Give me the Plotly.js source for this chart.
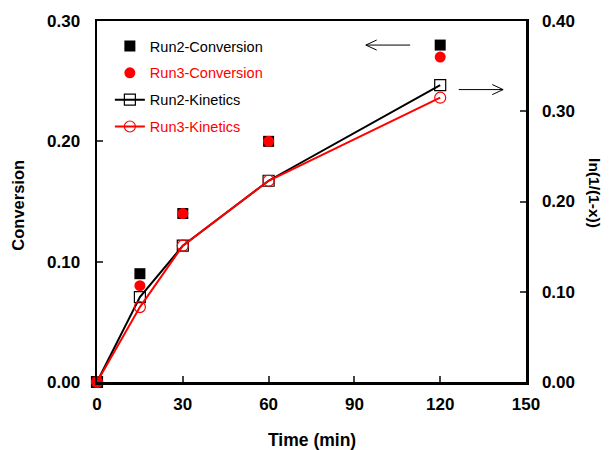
<!DOCTYPE html>
<html>
<head>
<meta charset="utf-8">
<script src="https://cdn.plot.ly/plotly-3.0.1.min.js"></script>
<style>html,body{margin:0;padding:0;background:#fff;}#chart{width:609px;height:450px;}</style>
</head>
<body>
<div id="chart"></div>
<script>
// Data
const time = [0, 15, 30, 60, 120];
const run2Conversion = [0, 0.09, 0.14, 0.20, 0.28];
const run3Conversion = [0, 0.08, 0.14, 0.20, 0.27];
const run2Kinetics = [0, 0.094, 0.151, 0.223, 0.329];
const run3Kinetics = [0, 0.083, 0.151, 0.223, 0.315];
const xTicks = [0, 30, 60, 90, 120, 150];
const seriesNames = ['Run2-Conversion', 'Run3-Conversion', 'Run2-Kinetics', 'Run3-Kinetics'];

const RED = '#ff0000';
const FONT = 'Arial, "Liberation Sans", sans-serif';

function redName(s) { return '<span style="color:' + RED + '">' + s + '</span>'; }

const traces = [
  {x: time, y: run2Conversion, name: seriesNames[0], type: 'scatter', mode: 'markers', cliponaxis: false,
   legendgroup: 'a', marker: {symbol: 'square', size: 11, color: '#000'}, yaxis: 'y'},
  {x: time, y: run3Conversion, name: redName(seriesNames[1]), type: 'scatter', mode: 'markers', cliponaxis: false,
   legendgroup: 'b', marker: {symbol: 'circle', size: 11, color: RED}, yaxis: 'y'},
  {x: time, y: run2Kinetics, name: seriesNames[2], type: 'scatter', mode: 'lines+markers', cliponaxis: false,
   legendgroup: 'c', line: {color: '#000', width: 2},
   marker: {symbol: 'square-open', size: 11, color: '#000', line: {width: 1.2}}, yaxis: 'y2'},
  {x: time, y: run3Kinetics, name: redName(seriesNames[3]), type: 'scatter', mode: 'lines+markers', cliponaxis: false,
   legendgroup: 'd', line: {color: RED, width: 2},
   marker: {symbol: 'circle-open', size: 11, color: RED, line: {width: 1.2}}, yaxis: 'y2'}
];

// arrow helpers (data coords of x axis / left y axis)
function arrowShapes(x0, x1, y, dir) {
  const hx = 3.8, hy = 0.0042;
  const tip = dir < 0 ? x0 : x1;
  const back = dir < 0 ? tip + hx : tip - hx;
  const st = {type: 'path', xref: 'x', yref: 'y', line: {color: '#000', width: 1}};
  return [
    Object.assign({}, st, {path: 'M' + x0 + ',' + y + ' L' + x1 + ',' + y}),
    Object.assign({}, st, {path: 'M' + back + ',' + (y + hy) + ' L' + tip + ',' + y + ' L' + back + ',' + (y - hy)})
  ];
}

const tickFont = {size: 17, family: FONT, weight: 'bold', color: '#000'};

const layout = {
  width: 609, height: 450,
  margin: {l: 96.5, r: 83, t: 21, b: 68},
  paper_bgcolor: '#fff', plot_bgcolor: '#fff',
  font: {family: FONT, color: '#000'},
  showlegend: true,
  legend: {x: 0.03, y: 0.975, xanchor: 'left', yanchor: 'top', bgcolor: 'rgba(0,0,0,0)',
           font: {size: 14.5, family: FONT, color: '#000'}, traceorder: 'grouped', tracegroupgap: 5},
  xaxis: {range: [0, 150], tickvals: xTicks, ticks: 'inside', ticklen: 6, tickwidth: 2,
          showline: true, linewidth: 2.5, linecolor: '#000', mirror: true, showgrid: false, zeroline: false,
          tickfont: tickFont, ticklabelstandoff: 5},
  yaxis: {range: [0, 0.30], dtick: 0.1, tickformat: '.2f', ticks: 'inside', ticklen: 6, tickwidth: 2,
          showline: true, linewidth: 2.5, linecolor: '#000', showgrid: false, zeroline: false,
          tickfont: tickFont, ticklabelstandoff: 11},
  yaxis2: {range: [0, 0.40], dtick: 0.1, tickformat: '.2f', overlaying: 'y', side: 'right',
           ticks: 'inside', ticklen: 6, tickwidth: 2,
           showline: true, linewidth: 2.5, linecolor: '#000', showgrid: false, zeroline: false,
           tickfont: tickFont, ticklabelstandoff: 10},
  annotations: [
    {text: '<b>Time (min)</b>', xref: 'paper', yref: 'paper', x: 0.5, y: -0.1607,
     xanchor: 'center', yanchor: 'middle',
     showarrow: false, font: {size: 17.5, family: FONT, color: '#000'}},
    {text: '<b>Conversion</b>', xref: 'paper', yref: 'paper', x: -0.1828, y: 0.490, textangle: -90,
     xanchor: 'center', yanchor: 'middle',
     showarrow: false, font: {size: 16.5, family: FONT, color: '#000'}},
    {text: '<b>ln(1/(1-x))</b>', xref: 'paper', yref: 'paper', x: 1.1607, y: 0.5235, textangle: 90,
     xanchor: 'center', yanchor: 'middle',
     showarrow: false, font: {size: 15.5, family: FONT, color: '#000'}}
  ],
  shapes: [].concat(arrowShapes(94, 109.5, 0.28, -1), arrowShapes(126.5, 142, 0.243, 1))
};

Plotly.newPlot('chart', traces, layout, {displayModeBar: false, staticPlot: true});
</script>
</body>
</html>
